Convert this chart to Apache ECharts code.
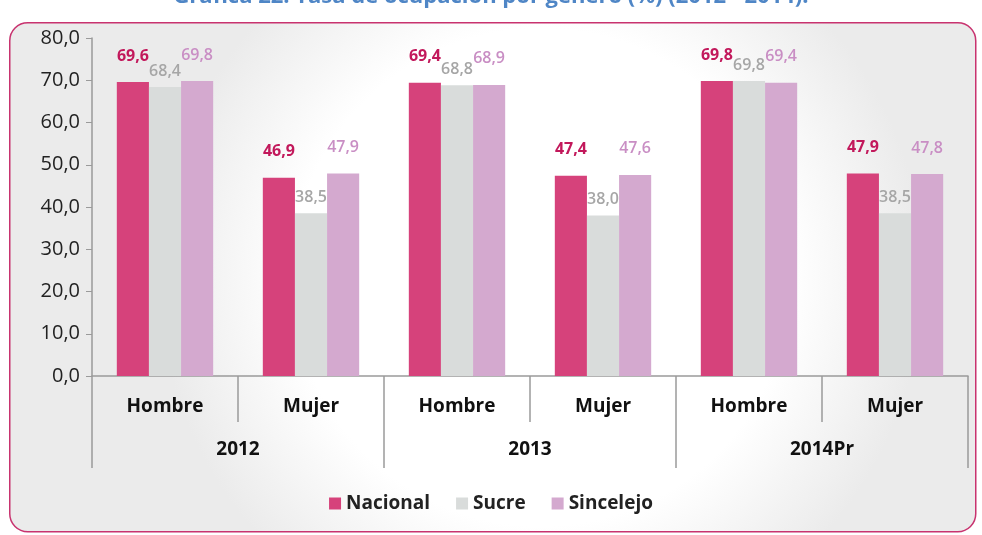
<!DOCTYPE html>
<html>
<head>
<meta charset="utf-8">
<script src="https://cdn.jsdelivr.net/npm/echarts@6/dist/echarts.min.js"></script>
<style>
  html, body { margin: 0; padding: 0; background: #ffffff; }
  #main { width: 982px; height: 535px; }
</style>
</head>
<body>
<div id="main"></div>
<script>
// categorías (género) y años
const genders = ['Hombre', 'Mujer', 'Hombre', 'Mujer', 'Hombre', 'Mujer']
const years = ['2012', '2013', '2014Pr']
// tasa de ocupación (%)
const nacional = [69.6, 46.9, 69.4, 47.4, 69.8, 47.9]
const sucre = [68.4, 38.5, 68.8, 38.0, 69.8, 38.5]
const sincelejo = [69.8, 47.9, 68.9, 47.6, 69.4, 47.8]
const yTicks = [0, 10, 20, 30, 40, 50, 60, 70, 80]

const font = '"Open Sans", Lato, sans-serif'
const fmt = v => Number(v).toFixed(1).replace('.', ',')

let myChart = echarts.init(document.getElementById('main'))

function barSeries(name, data, color, labelColor, bold, dist) {
    return {
        name: name,
        type: 'bar',
        data: data,
        barGap: '0%',
        barCategoryGap: '34%',
        itemStyle: { color: color },
        label: {
            show: true,
            position: 'top',
            distance: dist,
            formatter: p => fmt(p.value),
            color: labelColor,
            fontFamily: font,
            fontSize: 16,
            fontWeight: bold ? 'bold' : 600
        }
    }
}

let option = {
    animation: false,
    backgroundColor: '#ffffff',
    title: {
        text: 'Gráfica 22. Tasa de ocupación por género (%) (2012 - 2014).',
        left: 'center',
        top: -19,
        textStyle: { color: '#4f86c6', fontSize: 22, fontWeight: 'bold', fontFamily: font }
    },
    graphic: [
        {
            type: 'rect',
            left: 9,
            top: 22,
            z: -10,
            shape: { width: 966, height: 509, r: 18 },
            style: {
                fill: new echarts.graphic.RadialGradient(0.55, 0.5, 0.75, [
                    { offset: 0, color: '#ffffff' },
                    { offset: 0.65, color: '#ffffff' },
                    { offset: 1, color: '#ebebeb' }
                ]),
                stroke: '#c8336f',
                lineWidth: 1.5
            }
        }
    ],
    legend: {
        bottom: 17,
        left: 'center',
        itemWidth: 12,
        itemHeight: 12,
        itemGap: 26,
        icon: 'rect',
        textStyle: { fontFamily: font, fontSize: 19, fontWeight: 'bold', color: '#222' },
        data: ['Nacional', 'Sucre', 'Sincelejo']
    },
    grid: { left: 92, right: 14, top: 38, bottom: 159 },
    xAxis: [
        {
            type: 'category',
            data: genders,
            axisLine: { show: true, lineStyle: { color: '#9a9a9a', width: 1.5 } },
            axisTick: { show: true, length: 46, interval: 0, lineStyle: { color: '#9a9a9a', width: 1.5 } },
            axisLabel: { margin: 21, interval: 0, fontFamily: font, fontSize: 19, fontWeight: 'bold', color: '#111' }
        },
        {
            type: 'category',
            data: years,
            position: 'bottom',
            axisLine: { show: false },
            axisTick: { show: true, length: 92, interval: 0, lineStyle: { color: '#9a9a9a', width: 1.5 } },
            axisLabel: { margin: 64, interval: 0, fontFamily: font, fontSize: 19, fontWeight: 'bold', color: '#111' }
        }
    ],
    yAxis: {
        type: 'value',
        min: yTicks[0],
        max: yTicks[yTicks.length - 1],
        interval: 10,
        axisLine: { show: true, lineStyle: { color: '#9a9a9a', width: 1.5 } },
        axisTick: { show: true, length: 6, lineStyle: { color: '#9a9a9a' } },
        splitLine: { show: false },
        axisLabel: { margin: 12, formatter: v => fmt(v), fontFamily: font, fontSize: 20, color: '#222' }
    },
    series: [
        barSeries('Nacional', nacional, '#d6427b', '#c2185b', true, 18),
        barSeries('Sucre', sucre, '#d9dcdb', '#a6a6a6', false, 8),
        barSeries('Sincelejo', sincelejo, '#d4a9cf', '#c98ec4', false, 18)
    ]
}
myChart.setOption(option)
</script>
</body>
</html>
